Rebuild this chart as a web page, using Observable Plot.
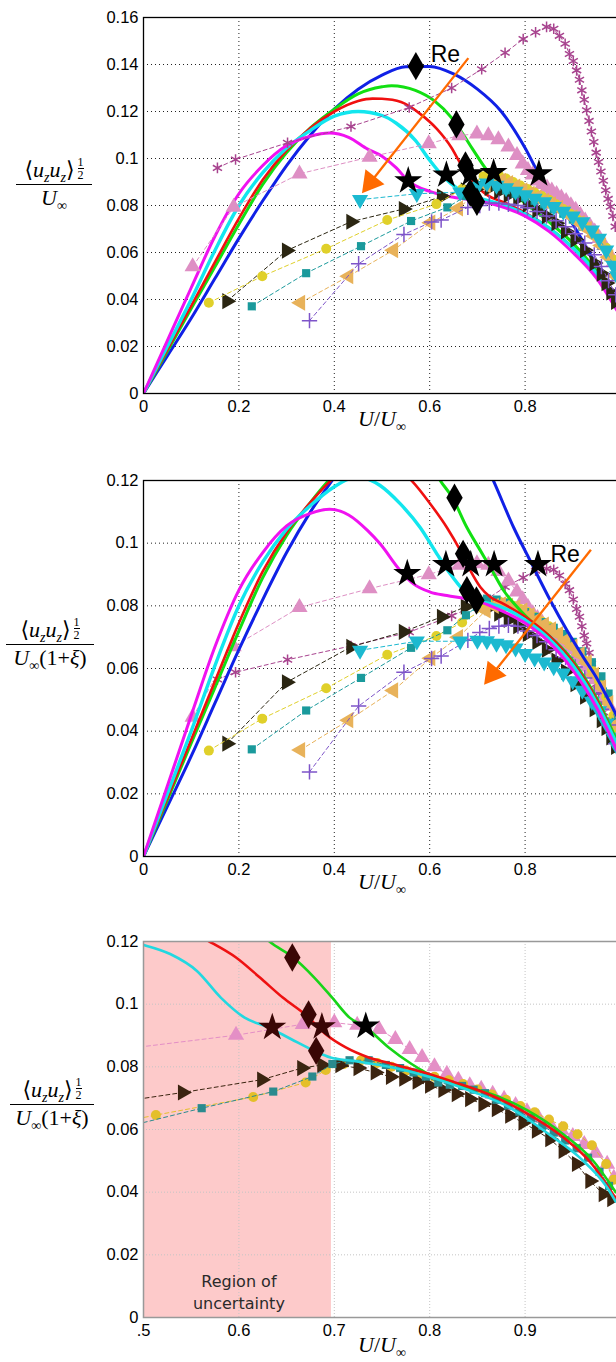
<!DOCTYPE html>
<html><head><meta charset="utf-8">
<script src="https://cdn.jsdelivr.net/npm/d3@7"></script>
<script src="https://cdn.jsdelivr.net/npm/@observablehq/plot@0.6"></script>
<style>
html,body{margin:0;padding:0;background:#fff;}
#root{position:relative;width:616px;height:1362px;overflow:hidden;background:#fff;}
.panel{position:absolute;left:0;width:630px;}
.panel svg{max-width:none !important;display:block;}
.ylab{position:absolute;height:0;border-top:1.4px solid #000;font-family:"Liberation Serif","DejaVu Serif",serif;font-size:22px;line-height:1;}
.ylab .num{position:absolute;left:-10px;right:-10px;bottom:3px;text-align:center;white-space:nowrap;}
.ylab .den{position:absolute;left:-10px;right:-10px;top:2px;text-align:center;white-space:nowrap;}
.ylab sub,.xlab sub{font-size:14px;vertical-align:-5px;line-height:0;}
.half{display:inline-flex;flex-direction:column;font-size:12px;vertical-align:11px;margin-left:3px;line-height:1.05;text-align:center;}
.half .d{border-top:1px solid #000;}
.xlab{position:absolute;transform:translate(-50%,-50%);font-family:"Liberation Serif","DejaVu Serif",serif;font-size:22px;white-space:nowrap;line-height:1;}
</style>
</head><body>
<div id="root"></div>
<script>
// ================= DATA =================
// ticks
const xTicks1 = [0, 0.2, 0.4, 0.6, 0.8];
const xTickLabels1 = ["0", "0.2", "0.4", "0.6", "0.8"];
const xTicks2 = [0, 0.2, 0.4, 0.6, 0.8, 1];
const xTickLabels2 = ["0", "0.2", "0.4", "0.6", "0.8", "1"];
const xTicks3 = [0.5, 0.6, 0.7, 0.8, 0.9];
const xTickLabels3 = [".5", "0.6", "0.7", "0.8", "0.9"];
const yTicks1 = [0, 0.02, 0.04, 0.06, 0.08, 0.1, 0.12, 0.14, 0.16];
const yTickLabels1 = ["0", "0.02", "0.04", "0.06", "0.08", "0.1", "0.12", "0.14", "0.16"];
const yTicks23 = [0, 0.02, 0.04, 0.06, 0.08, 0.1, 0.12];
const yTickLabels23 = ["0", "0.02", "0.04", "0.06", "0.08", "0.1", "0.12"];

// Experimental series (x = U/Uinf ; y1 = panel 1, y2 = panel 2)
const astX  = [0.155,0.193,0.302,0.435,0.557,0.646,0.709,0.758,0.796,0.822,0.845,0.860,0.872,0.884,0.893,0.901,0.908,0.914,0.919,0.924,0.929,0.934,0.939,0.944,0.949,0.954,0.959,0.964,0.969,0.974,0.979,0.984,0.989];
const astY1 = [0.096,0.0996,0.1067,0.1136,0.1217,0.130,0.138,0.145,0.1508,0.1537,0.156,0.1552,0.1522,0.1488,0.1445,0.1415,0.1375,0.1335,0.129,0.125,0.1205,0.116,0.1115,0.107,0.1025,0.0985,0.0945,0.0905,0.0865,0.0828,0.0795,0.0755,0.071];
const astY2 = [0.0565,0.0588,0.0628,0.0672,0.0716,0.0768,0.081,0.086,0.089,0.0912,0.0918,0.0915,0.0897,0.087,0.085,0.082,0.079,0.0765,0.0735,0.0705,0.068,0.065,0.0615,0.058,0.055,0.052,0.049,0.046,0.0435,0.041,0.0395,0.038,0.036];

const pinkX  = [0.103,0.189,0.327,0.474,0.598,0.662,0.699,0.723,0.744,0.765,0.783,0.795,0.806,0.816,0.826,0.836,0.846,0.856,0.866,0.876,0.886,0.896,0.906,0.916,0.926,0.936,0.946,0.956,0.966,0.976,0.986,0.993];
const pinkY1 = [0.054,0.0793,0.0935,0.1006,0.1063,0.1098,0.1105,0.1098,0.108,0.105,0.1013,0.0977,0.095,0.093,0.0905,0.089,0.0875,0.0862,0.0848,0.0833,0.0818,0.080,0.078,0.0758,0.0735,0.0712,0.0688,0.066,0.063,0.0595,0.056,0.052];
const pinkY2 = [0.0445,0.067,0.0795,0.0855,0.090,0.093,0.0935,0.093,0.091,0.088,0.0845,0.082,0.0795,0.0775,0.076,0.0745,0.073,0.0718,0.0705,0.069,0.0675,0.066,0.0642,0.0625,0.0605,0.0585,0.0565,0.054,0.051,0.048,0.044,0.040];

const blkX  = [0.175,0.30,0.435,0.545,0.625,0.675,0.705,0.725,0.745,0.765,0.785,0.805,0.825,0.845,0.865,0.885,0.905,0.925,0.945,0.96,0.97,0.98,0.99];
const blkY1 = [0.0393,0.0608,0.0731,0.0785,0.0838,0.0865,0.088,0.0875,0.086,0.0845,0.083,0.0805,0.078,0.0755,0.0725,0.069,0.0655,0.061,0.0555,0.051,0.047,0.043,0.039];
const blkY2 = [0.036,0.0556,0.0669,0.0717,0.0765,0.0797,0.0805,0.0795,0.0775,0.0755,0.0735,0.071,0.0685,0.066,0.0625,0.059,0.055,0.051,0.047,0.0435,0.041,0.038,0.035];

const yelX  = [0.137,0.249,0.383,0.511,0.614,0.668,0.713,0.73,0.745,0.76,0.775,0.79,0.805,0.82,0.835,0.85,0.865,0.88,0.895,0.91,0.925,0.94,0.955,0.97,0.985,0.993];
const yelY1 = [0.0386,0.0499,0.0616,0.0738,0.0806,0.087,0.0925,0.094,0.093,0.0915,0.09,0.0885,0.087,0.0855,0.084,0.0825,0.0805,0.0785,0.0765,0.074,0.0715,0.069,0.066,0.062,0.057,0.052];
const yelY2 = [0.0338,0.044,0.0537,0.0644,0.0704,0.0747,0.079,0.081,0.0815,0.081,0.08,0.079,0.078,0.0765,0.075,0.0735,0.0715,0.0695,0.0675,0.065,0.0625,0.0595,0.056,0.051,0.045,0.041];

const tealX  = [0.227,0.341,0.456,0.561,0.637,0.676,0.699,0.72,0.74,0.76,0.78,0.80,0.82,0.84,0.86,0.88,0.90,0.92,0.94,0.96,0.975,0.99];
const tealY1 = [0.0371,0.0512,0.0627,0.0734,0.0792,0.084,0.0887,0.089,0.088,0.0865,0.085,0.0835,0.082,0.0805,0.0785,0.0765,0.074,0.071,0.068,0.063,0.058,0.05];
const tealY2 = [0.0342,0.0466,0.057,0.0666,0.0722,0.077,0.0797,0.0823,0.082,0.081,0.0795,0.078,0.0765,0.0748,0.073,0.071,0.0685,0.0655,0.062,0.0575,0.052,0.043];

const tanX  = [0.329,0.43,0.524,0.602,0.66,0.718,0.735,0.75,0.765,0.78,0.795,0.81,0.825,0.84,0.855,0.87,0.885,0.90,0.915,0.93,0.945,0.96,0.975,0.99];
const tanY1 = [0.0386,0.0499,0.061,0.0727,0.0788,0.0887,0.091,0.0905,0.0895,0.088,0.0865,0.085,0.0835,0.082,0.0805,0.079,0.077,0.075,0.0725,0.07,0.067,0.063,0.058,0.05];
const tanY2 = [0.034,0.0435,0.053,0.0633,0.070,0.0785,0.080,0.0805,0.080,0.0795,0.0785,0.077,0.0755,0.074,0.0725,0.071,0.069,0.067,0.0645,0.062,0.058,0.054,0.049,0.042];

const purX  = [0.348,0.451,0.546,0.604,0.624,0.68,0.705,0.725,0.745,0.765,0.785,0.805,0.825,0.845,0.865,0.885,0.905,0.925,0.945,0.96,0.975,0.99];
const purY1 = [0.031,0.0552,0.0677,0.073,0.0738,0.0792,0.080,0.081,0.081,0.0805,0.080,0.079,0.0775,0.0755,0.0735,0.071,0.068,0.064,0.059,0.054,0.048,0.042];
const purY2 = [0.027,0.048,0.0588,0.0632,0.064,0.069,0.0715,0.0728,0.0735,0.0738,0.0735,0.072,0.0705,0.0685,0.066,0.0635,0.0605,0.057,0.052,0.047,0.042,0.036];

const cydX  = [0.454,0.573,0.664,0.70,0.72,0.74,0.76,0.78,0.80,0.82,0.84,0.86,0.88,0.90,0.92,0.94,0.955,0.97,0.985,0.993];
const cydY1 = [0.0825,0.085,0.0857,0.088,0.0895,0.0885,0.0875,0.086,0.0845,0.083,0.0815,0.0795,0.0775,0.0755,0.073,0.0695,0.066,0.061,0.0545,0.05];
const cydY2 = [0.0658,0.0687,0.0687,0.069,0.0688,0.068,0.0675,0.0665,0.0647,0.0633,0.062,0.0605,0.0585,0.056,0.053,0.0495,0.0465,0.0425,0.038,0.035];

// Panel 3 experimental series
const pink3X = [0.474,0.597,0.667,0.700,0.724,0.747,0.764,0.779,0.792,0.805,0.818,0.830,0.842,0.854,0.866,0.878,0.890,0.902,0.914,0.926,0.938,0.950,0.962,0.974,0.986,0.993];
const pink3Y = [0.0855,0.0901,0.0936,0.0941,0.0933,0.092,0.0888,0.0856,0.083,0.0801,0.0777,0.0758,0.074,0.0729,0.0713,0.0697,0.0677,0.0657,0.0637,0.0617,0.0598,0.0578,0.0553,0.0525,0.049,0.0445];
const blk3X = [0.40,0.541,0.624,0.666,0.687,0.706,0.725,0.743,0.759,0.773,0.787,0.80,0.814,0.828,0.842,0.856,0.870,0.884,0.898,0.912,0.926,0.940,0.954,0.968,0.982,0.991];
const blk3Y = [0.0654,0.0718,0.0759,0.0796,0.0806,0.0805,0.0796,0.0782,0.0768,0.0762,0.0753,0.074,0.0726,0.0713,0.0697,0.0681,0.0665,0.0644,0.0622,0.0596,0.0569,0.0532,0.049,0.0436,0.0394,0.0378];
const yel3X = [0.40,0.513,0.615,0.67,0.691,0.71,0.728,0.745,0.76,0.775,0.79,0.805,0.82,0.835,0.85,0.865,0.88,0.895,0.91,0.925,0.94,0.955,0.97,0.985,0.993];
const yel3Y = [0.0578,0.0646,0.0704,0.075,0.079,0.0809,0.0821,0.0812,0.080,0.0788,0.0778,0.0768,0.0757,0.0745,0.0728,0.0712,0.0695,0.0675,0.0655,0.0632,0.061,0.0585,0.055,0.049,0.044];
const teal3X = [0.40,0.561,0.636,0.677,0.698,0.716,0.736,0.754,0.769,0.783,0.796,0.809,0.821,0.834,0.846,0.858,0.870,0.882,0.894,0.906,0.918,0.930,0.942,0.954,0.966,0.978,0.988];
const teal3Y = [0.0547,0.0668,0.0721,0.0769,0.0809,0.0821,0.0821,0.0806,0.0796,0.0782,0.0769,0.075,0.0743,0.0739,0.0727,0.0716,0.0695,0.0677,0.0657,0.0637,0.0612,0.059,0.0565,0.054,0.051,0.0465,0.042];

// Solid curves, panel 1
const blue1X = [0,0.05,0.1,0.15,0.2,0.25,0.3,0.35,0.4,0.45,0.5,0.55,0.6,0.65,0.7,0.75,0.8,0.83,0.86,0.9,0.94,0.97,0.995];
const blue1Y = [0,0.016,0.032,0.049,0.066,0.082,0.097,0.11,0.121,0.1295,0.1355,0.139,0.1392,0.136,0.1295,0.12,0.1045,0.093,0.084,0.072,0.058,0.047,0.037];
const green1X = [0,0.05,0.1,0.15,0.2,0.25,0.3,0.35,0.4,0.45,0.5,0.52,0.57,0.61,0.645,0.665,0.69,0.72,0.75,0.8,0.85,0.9,0.95,0.995];
const green1Y = [0,0.018,0.0362,0.054,0.072,0.089,0.1025,0.113,0.121,0.1275,0.1305,0.131,0.129,0.1245,0.1175,0.1119,0.104,0.095,0.089,0.081,0.073,0.064,0.052,0.038];
const red1X = [0,0.05,0.1,0.15,0.2,0.25,0.3,0.35,0.4,0.45,0.48,0.5,0.54,0.58,0.615,0.645,0.665,0.69,0.72,0.76,0.8,0.85,0.9,0.95,0.995];
const red1Y = [0,0.0187,0.0373,0.056,0.0745,0.091,0.1035,0.113,0.12,0.1245,0.1255,0.1254,0.124,0.119,0.1126,0.1048,0.0977,0.09,0.0845,0.081,0.077,0.0705,0.062,0.0505,0.037];
const cyan1X = [0,0.05,0.1,0.15,0.2,0.25,0.3,0.35,0.4,0.45,0.5,0.53,0.57,0.6,0.63,0.66,0.7,0.75,0.8,0.85,0.9,0.95,0.995];
const cyan1Y = [0,0.02,0.04,0.061,0.08,0.094,0.1045,0.112,0.118,0.12,0.1183,0.115,0.1077,0.0993,0.092,0.087,0.0835,0.0805,0.0765,0.0705,0.062,0.051,0.037];
const mag1X = [0,0.05,0.1,0.15,0.2,0.25,0.3,0.35,0.39,0.43,0.47,0.5,0.53,0.555,0.6,0.65,0.7,0.75,0.8,0.85,0.9,0.95,0.995];
const mag1Y = [0,0.0225,0.045,0.067,0.085,0.097,0.1055,0.1095,0.1108,0.109,0.104,0.101,0.096,0.0905,0.086,0.0835,0.082,0.0795,0.0755,0.069,0.06,0.049,0.0345];

// Solid curves, panel 2
const blue2X = [0,0.05,0.1,0.15,0.2,0.25,0.3,0.35,0.4,0.45,0.5,0.55,0.6,0.65,0.7,0.734,0.776,0.814,0.853,0.888,0.922,0.95,0.975,0.995];
const blue2Y = [0,0.016,0.032,0.049,0.066,0.082,0.097,0.11,0.121,0.132,0.14,0.145,0.146,0.142,0.131,0.1198,0.105,0.0934,0.0817,0.0721,0.0636,0.057,0.05,0.044];
const green2X = [0,0.05,0.1,0.15,0.2,0.25,0.3,0.35,0.4,0.45,0.5,0.55,0.6,0.622,0.647,0.678,0.706,0.727,0.755,0.79,0.818,0.85,0.9,0.95,0.995];
const green2Y = [0,0.018,0.0362,0.054,0.072,0.089,0.1025,0.113,0.122,0.129,0.133,0.133,0.126,0.12,0.1147,0.105,0.0977,0.0923,0.0849,0.0785,0.0743,0.0705,0.0625,0.0505,0.036];
const red2X = [0,0.05,0.1,0.15,0.2,0.25,0.3,0.35,0.4,0.45,0.5,0.563,0.601,0.636,0.664,0.685,0.706,0.727,0.75,0.8,0.85,0.9,0.95,0.995];
const red2Y = [0,0.0187,0.0373,0.056,0.0745,0.091,0.1035,0.113,0.121,0.126,0.127,0.1198,0.1126,0.105,0.0977,0.0913,0.086,0.0828,0.081,0.0765,0.0705,0.062,0.05,0.035];
const cyan2X = [0,0.05,0.1,0.15,0.2,0.25,0.3,0.35,0.4,0.43,0.45,0.47,0.496,0.538,0.58,0.615,0.643,0.671,0.699,0.727,0.76,0.8,0.85,0.9,0.95,0.995];
const cyan2Y = [0,0.02,0.04,0.061,0.08,0.094,0.1045,0.112,0.118,0.1205,0.1215,0.1205,0.1184,0.1126,0.105,0.0966,0.0902,0.0849,0.0817,0.0807,0.079,0.0755,0.0695,0.061,0.049,0.035];
const mag2X = [0,0.05,0.1,0.15,0.2,0.25,0.3,0.35,0.39,0.43,0.47,0.496,0.538,0.566,0.601,0.636,0.678,0.706,0.75,0.8,0.85,0.9,0.95,0.995];
const mag2Y = [0,0.0225,0.045,0.067,0.085,0.097,0.1055,0.1095,0.1108,0.109,0.104,0.0998,0.0913,0.087,0.0844,0.0833,0.0822,0.0812,0.0785,0.0745,0.0685,0.0595,0.0475,0.033];

// Solid curves, panel 3
const green3X = [0.6,0.632,0.657,0.679,0.698,0.716,0.733,0.757,0.781,0.81,0.834,0.86,0.9,0.94,0.97,0.995];
const green3Y = [0.13,0.12,0.1149,0.1085,0.102,0.0957,0.0926,0.0862,0.0809,0.0761,0.0739,0.0718,0.0665,0.0585,0.0505,0.04];
const red3X = [0.54,0.569,0.597,0.622,0.646,0.671,0.691,0.712,0.736,0.761,0.794,0.822,0.86,0.9,0.94,0.97,0.995];
const red3Y = [0.1245,0.12,0.1149,0.1085,0.1021,0.0963,0.0904,0.0862,0.083,0.0809,0.0782,0.0755,0.0715,0.0655,0.0575,0.049,0.038];
const cyan3X = [0.45,0.5,0.528,0.556,0.581,0.606,0.631,0.655,0.679,0.696,0.72,0.761,0.802,0.843,0.884,0.925,0.957,0.986,0.995];
const cyan3Y = [0.1215,0.1189,0.116,0.1106,0.1021,0.0957,0.0926,0.0888,0.0851,0.083,0.0819,0.0798,0.0766,0.0723,0.067,0.0585,0.0511,0.0415,0.037];

// Stars and diamonds
const star1X = [0.555,0.635,0.686,0.734,0.829];
const star1Y = [0.0905,0.093,0.0935,0.094,0.0935];
const dia1X = [0.571,0.656,0.675,0.685,0.699];
const dia1Y = [0.1393,0.1145,0.097,0.0855,0.0816];
const star2X = [0.553,0.634,0.686,0.735,0.827];
const star2Y = [0.0903,0.0932,0.0932,0.0932,0.0932];
const dia2X = [0.652,0.670,0.678,0.698];
const dia2Y = [0.1145,0.0966,0.085,0.0817];
const star3X = [0.635,0.687,0.733];
const star3Y = [0.0926,0.0928,0.093];
const star3Col = ["#3a0605","#3a0605","#000000"];
const dia3X = [0.656,0.673,0.681];
const dia3Y = [0.1149,0.0967,0.0851];

// Annotations
const reArrow1 = [[0.681, 0.1427], [0.458, 0.0852]];
const reText1 = [0.633, 0.1443];
const reArrow2 = [[0.938, 0.0979], [0.714, 0.0548]];
const reText2 = [0.884, 0.0964];
const uncertaintyX = [0.5, 0.697];
const uncertaintyText = [0.6, 0.0085, "Region of\nuncertainty"];

// ================= STYLE =================
const C = {
  ast: "#a8448f", pink: "#de8fc4", blk: "#2b2612", yel: "#e0d02a", teal: "#1a9a9c",
  tan: "#e8b25a", pur: "#7e54c9", cyd: "#1cb9d0",
  pink3: "#e48fc6", blk3: "#3b2410", yel3: "#e4bf2a", teal3: "#2a8a8e",
  blue: "#1020e6", green: "#12e012", red: "#f01010", cyan: "#12e6ee", mag: "#f012f0",
  orange: "#ff6a00"
};
const W = 630, ML = 143, MR = 10, MB = 30;

const rows = (xs, ys) => xs.map((x, i) => ({x, y: ys[i]}));

function series(xs, ys, color, symbol, r, rotate, stroked) {
  const d = rows(xs, ys);
  return [
    Plot.line(d, {x: "x", y: "y", stroke: color, strokeWidth: 1, strokeDasharray: "4,3", clip: true}),
    Plot.dot(d, {x: "x", y: "y", symbol, r, rotate: rotate || 0,
      fill: stroked ? "none" : color, stroke: stroked ? color : "none", strokeWidth: 1.5, clip: true})
  ];
}
function solid(xs, ys, color, w) {
  return Plot.line(rows(xs, ys), {x: "x", y: "y", stroke: color, strokeWidth: w, curve: "monotone-x", clip: true});
}
function markers(xs, ys, symbol, r, fill) {
  const d = xs.map((x, i) => ({x, y: ys[i], c: Array.isArray(fill) ? fill[i] : fill}));
  return Plot.dot(d, {x: "x", y: "y", symbol, r, fill: "c", stroke: "none", clip: true});
}
function arrow(a, kx, ky) {
  const [s, t] = a;
  const sx = (t[0] - s[0]) * kx, sy = -(t[1] - s[1]) * ky;
  const L = Math.hypot(sx, sy), ux = sx / L, uy = sy / L;
  const back = 14;
  const hx = t[0] - ux * back / kx, hy = t[1] + uy * back / ky;
  const rot = Math.atan2(ux, -uy) * 180 / Math.PI;
  return [
    Plot.link([{x1: s[0], y1: s[1], x2: hx, y2: hy}], {x1: "x1", y1: "y1", x2: "x2", y2: "y2", stroke: C.orange, strokeWidth: 2.3}),
    Plot.dot([{x: hx, y: hy}], {x: "x", y: "y", symbol: "triangle", r: 9, fill: C.orange, stroke: "none", rotate: rot})
  ];
}

function makePanel(o) {
  const fmt = (ticks, labels) => (d) => labels[ticks.findIndex(t => Math.abs(t - d) < 1e-9)];
  return Plot.plot({
    width: W, height: o.height, marginLeft: ML, marginRight: MR, marginTop: o.marginTop, marginBottom: MB,
    x: {domain: o.xDomain}, y: {domain: o.yDomain},
    style: {fontFamily: "'Liberation Sans', Arial, sans-serif", fontSize: "16px", color: "#000", background: "transparent", overflow: "hidden"},
    marks: [
      ...(o.under || []),
      Plot.gridX(o.xTicks, {stroke: o.gridStroke, strokeOpacity: 1, strokeDasharray: o.gridDash, strokeWidth: 1}),
      Plot.gridY(o.yTicks, {stroke: o.gridStroke, strokeOpacity: 1, strokeDasharray: o.gridDash, strokeWidth: 1}),
      ...o.marks,
      Plot.frame({stroke: o.frameStroke, strokeWidth: o.frameWidth}),
      Plot.axisX(o.xTicks, {tickSize: 0, tickPadding: 7, tickFormat: fmt(o.xTicks, o.xLabels), fontSize: 16.5, label: null}),
      Plot.axisY(o.yTicks, {tickSize: 0, tickPadding: 5, tickFormat: fmt(o.yTicks, o.yLabels), fontSize: 16.5, label: null})
    ]
  });
}

const root = document.getElementById("root");
function place(svg, top) {
  const div = document.createElement("div");
  div.className = "panel";
  div.style.top = top + "px";
  svg.style.maxWidth = "none";
  div.appendChild(svg);
  root.appendChild(div);
}

// marker sizes
const R = {tri: 6, circ: 5, sq: 4.6, ast: 5, plus: 5, star: 8.8, dia: 8.6};

// ---------- Panel 1 ----------
const kx12 = (W - ML - MR) / 1;
const ky1 = (423 - 17 - MB) / 0.16;
const p1 = makePanel({
  height: 423, marginTop: 17, xDomain: [0, 1], yDomain: [0, 0.16],
  xTicks: xTicks1, xLabels: xTickLabels1, yTicks: yTicks1, yLabels: yTickLabels1,
  gridStroke: "#222", gridDash: "1,3", frameStroke: "#000", frameWidth: 1.3,
  marks: [
    solid(blue1X, blue1Y, C.blue, 3),
    solid(green1X, green1Y, C.green, 3),
    solid(red1X, red1Y, C.red, 2.6),
    solid(cyan1X, cyan1Y, C.cyan, 3.4),
    solid(mag1X, mag1Y, C.mag, 3),
    ...series(astX, astY1, C.ast, "asterisk", R.ast, 0, true),
    ...series(pinkX, pinkY1, C.pink, "triangle", R.tri, 0, false),
    ...series(blkX, blkY1, C.blk, "triangle", R.tri, 90, false),
    ...series(yelX, yelY1, C.yel, "circle", R.circ, 0, false),
    ...series(tealX, tealY1, C.teal, "square", R.sq, 0, false),
    ...series(tanX, tanY1, C.tan, "triangle", R.tri, -90, false),
    ...series(purX, purY1, C.pur, "plus", R.plus, 0, true),
    ...series(cydX, cydY1, C.cyd, "triangle", R.tri, 180, false),
    markers(dia1X, dia1Y, "diamond", R.dia, "#000"),
    markers(star1X, star1Y, "star", R.star, "#000"),
    ...arrow(reArrow1, kx12, ky1),
    Plot.text([reText1], {x: d => d[0], y: d => d[1], text: () => "Re", fontSize: 23, fill: "#000"})
  ]
});
place(p1, 0);

// ---------- Panel 2 ----------
const ky2 = (426 - 20 - MB) / 0.12;
const p2 = makePanel({
  height: 426, marginTop: 20, xDomain: [0, 1], yDomain: [0, 0.12],
  xTicks: xTicks2, xLabels: xTickLabels2, yTicks: yTicks23, yLabels: yTickLabels23,
  gridStroke: "#222", gridDash: "1,3", frameStroke: "#000", frameWidth: 1.3,
  marks: [
    ...series(astX, astY2, C.ast, "asterisk", R.ast, 0, true),
    ...series(pinkX, pinkY2, C.pink, "triangle", R.tri, 0, false),
    ...series(blkX, blkY2, C.blk, "triangle", R.tri, 90, false),
    ...series(yelX, yelY2, C.yel, "circle", R.circ, 0, false),
    ...series(tealX, tealY2, C.teal, "square", R.sq, 0, false),
    ...series(tanX, tanY2, C.tan, "triangle", R.tri, -90, false),
    ...series(purX, purY2, C.pur, "plus", R.plus, 0, true),
    ...series(cydX, cydY2, C.cyd, "triangle", R.tri, 180, false),
    solid(blue2X, blue2Y, C.blue, 3),
    solid(green2X, green2Y, C.green, 3),
    solid(red2X, red2Y, C.red, 2.6),
    solid(cyan2X, cyan2Y, C.cyan, 3.4),
    solid(mag2X, mag2Y, C.mag, 3),
    markers(dia2X, dia2Y, "diamond", R.dia, "#000"),
    markers(star2X, star2Y, "star", R.star, "#000"),
    ...arrow(reArrow2, kx12, ky2),
    Plot.text([reText2], {x: d => d[0], y: d => d[1], text: () => "Re", fontSize: 23, fill: "#000"})
  ]
});
place(p2, 460);

// ---------- Panel 3 ----------
const p3 = makePanel({
  height: 427, marginTop: 21, xDomain: [0.5, 1.0], yDomain: [0, 0.12],
  xTicks: xTicks3, xLabels: xTickLabels3, yTicks: yTicks23, yLabels: yTickLabels23,
  gridStroke: "#c4c4c4", gridDash: "1,2", frameStroke: "#999", frameWidth: 1.5,
  under: [
    Plot.rect([uncertaintyX], {x1: d => d[0], x2: d => d[1], y1: 0, y2: 0.12, fill: "#fdcaca"})
  ],
  marks: [
    ...series(pink3X, pink3Y, C.pink3, "triangle", R.tri, 0, false),
    ...series(yel3X, yel3Y, C.yel3, "circle", R.circ, 0, false),
    ...series(blk3X, blk3Y, C.blk3, "triangle", R.tri, 90, false),
    ...series(teal3X, teal3Y, C.teal3, "square", R.sq, 0, false),
    solid(green3X, green3Y, "#18d418", 2.6),
    solid(red3X, red3Y, "#ee1111", 2.6),
    solid(cyan3X, cyan3Y, "#22d8e0", 2.6),
    markers(dia3X, dia3Y, "diamond", R.dia, "#3a0605"),
    markers(star3X, star3Y, "star", R.star, star3Col),
    Plot.text([uncertaintyText], {x: d => d[0], y: d => d[1], text: d => d[2], fontSize: 16,
      fontFamily: "'DejaVu Sans', sans-serif", lineHeight: 1.35, fill: "#2a2a2a"})
  ]
});
place(p3, 920);

// ---------- Axis labels (HTML math) ----------
function yLabel(barY, left, width, denHTML) {
  const d = document.createElement("div");
  d.className = "ylab";
  d.style.top = barY + "px"; d.style.left = left + "px"; d.style.width = width + "px";
  d.innerHTML = `<div class="num">⟨<i>u</i><sub><i>z</i></sub><i>u</i><sub><i>z</i></sub>⟩<span class="half"><span>1</span><span class="d">2</span></span></div><div class="den">${denHTML}</div>`;
  root.appendChild(d);
}
function xLabel(cx, cy) {
  const d = document.createElement("div");
  d.className = "xlab";
  d.style.left = cx + "px"; d.style.top = cy + "px";
  d.innerHTML = `<i>U</i>/<i>U</i><sub>∞</sub>`;
  root.appendChild(d);
}
yLabel(184, 16, 76, `<i>U</i><sub>∞</sub>`);
yLabel(644, 6, 88, `<i>U</i><sub>∞</sub>(1+<i>ξ</i>)`);
yLabel(1104, 10, 84, `<i>U</i><sub>∞</sub>(1+<i>ξ</i>)`);
xLabel(382, 419);
xLabel(382, 882);
xLabel(382, 1345);
</script>
</body></html>
